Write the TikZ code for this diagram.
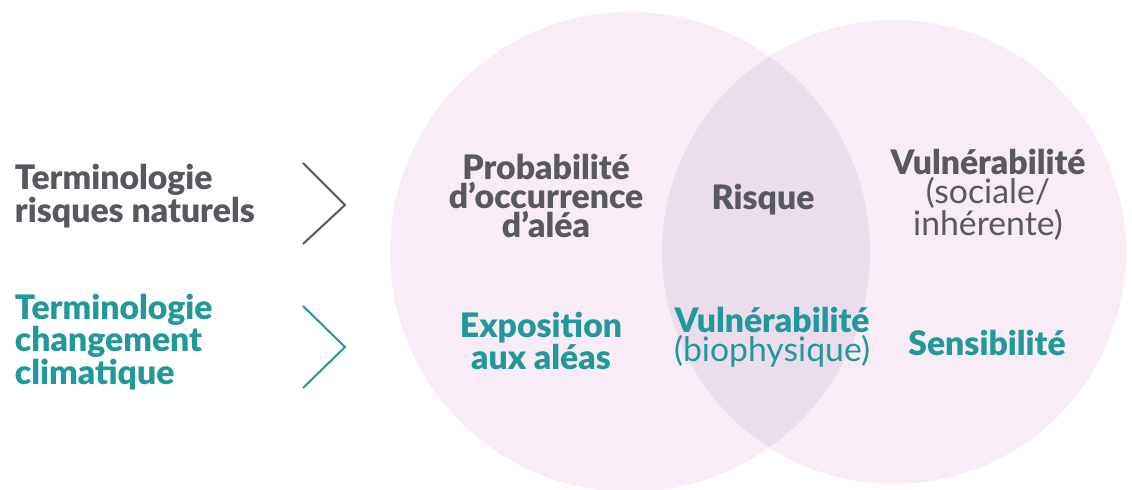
\documentclass[tikz,border=0pt]{standalone}
\usepackage{fontspec}
\setmainfont{Lato}[BoldFont={Lato Black}]
\usepackage{xcolor}
\definecolor{venngray}{RGB}{88,88,96}
\definecolor{vennteal}{RGB}{35,152,155}
\definecolor{vennpink}{RGB}{248,237,247}
\definecolor{vennlens}{RGB}{236,221,236}

\begin{document}
\begin{tikzpicture}[
  term/.style={font=\fontsize{24}{18.5}\selectfont\bfseries, align=left, anchor=west},
  cell/.style={font=\fontsize{24}{20.5}\selectfont\bfseries, align=center},
  chevron/.style={line width=1.4pt, line join=miter}
]
\useasboundingbox (0,0) rectangle (28.3,12.25);
% the two sets and their overlap
\fill[vennpink] (15.75,5.95) circle (6.0);
\fill[vennpink] (22.35,5.95) circle (5.8);
\begin{scope}
  \clip (15.75,5.95) circle (6.0);
  \fill[vennlens] (22.35,5.95) circle (5.8);
\end{scope}
% row labels
\node[term, text=venngray] (natterm) at (0.25,7.35) {Terminologie\\risques naturels};
\node[term, text=vennteal] (climterm) at (0.25,3.7) {Terminologie\\changement\\climatique};
\draw[chevron, venngray] (7.575,8.175) -- (8.625,7.125) -- (7.575,6.15);
\draw[chevron, vennteal] (7.575,4.6) -- (8.625,3.575) -- (7.575,2.55);
% upper row
\node[cell, text=venngray] (proba) at (13.65,7.35) {Probabilité\\d’occurrence\\d’aléa};
\node[cell, text=venngray] (risk) at (19.075,7.25) {Risque};
\node[cell, text=venngray] (socvuln) at (24.7,7.375) {Vulnérabilité\\\textmd{(sociale/}\\\textmd{inhérente)}};
% lower row
\node[cell, text=vennteal] (expo) at (13.525,3.725) {Exposition\\aux aléas};
\node[cell, text=vennteal] (biovuln) at (19.3,3.825) {Vulnérabilité\\\textmd{(biophysique)}};
\node[cell, text=vennteal] (sens) at (24.675,3.675) {Sensibilité};
\end{tikzpicture}
\end{document}
